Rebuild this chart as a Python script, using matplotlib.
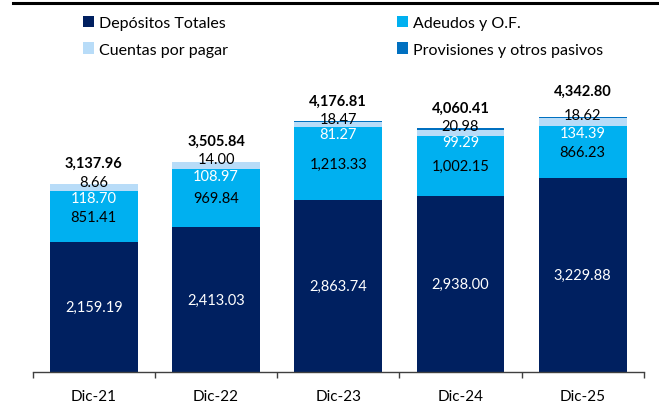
import numpy as np
import matplotlib.pyplot as plt
from matplotlib.lines import Line2D

# data (millones)
periodos = ["Dic-21", "Dic-22", "Dic-23", "Dic-24", "Dic-25"]
depositos = [2159.19, 2413.03, 2863.74, 2938.00, 3229.88]
adeudos = [851.41, 969.84, 1213.33, 1002.15, 866.23]
cuentas = [118.70, 108.97, 81.27, 99.29, 134.39]
provisiones = [8.66, 14.00, 18.47, 20.98, 18.62]
totales = [3137.96, 3505.84, 4176.81, 4060.41, 4342.80]

c_dep = "#002060"
c_ade = "#00B0F0"
c_cue = "#B8DCF8"
c_pro = "#0070C0"

plt.rcParams["font.family"] = ["Lato", "DejaVu Sans"]

fig = plt.figure(figsize=(6.59, 4.06), dpi=100)
ax = fig.add_axes([0.0496, 0.0813, 0.9274, 0.7687])

x = np.arange(len(periodos))
w = 0.717
dep = np.array(depositos)
ade = np.array(adeudos)
cue = np.array(cuentas)
pro = np.array(provisiones)

b1 = ax.bar(x, dep, w, color=c_dep)
b2 = ax.bar(x, ade, w, bottom=dep, color=c_ade)
b3 = ax.bar(x, cue, w, bottom=dep + ade, color=c_cue)
b4 = ax.bar(x, pro, w, bottom=dep + ade + cue, color=c_pro)

fs = 10.5
for i in range(len(x)):
    ax.text(x[i], dep[i] / 2, f"{dep[i]:,.2f}", ha="center", va="center",
            color="white", fontsize=fs)
    ax.text(x[i], dep[i] + ade[i] / 2, f"{ade[i]:,.2f}", ha="center", va="center",
            color="black", fontsize=fs)
    ax.annotate(f"{cue[i]:,.2f}", (x[i], dep[i] + ade[i]), xytext=(0, -5),
                textcoords="offset points", ha="center", va="center",
                color="white", fontsize=fs)
    top = dep[i] + ade[i] + cue[i] + pro[i]
    ax.annotate(f"{pro[i]:,.2f}", (x[i], top), xytext=(0, 1.5),
                textcoords="offset points", ha="center", va="center",
                color="black", fontsize=fs)
    ax.annotate(f"{totales[i]:,.2f}", (x[i], totales[i]), xytext=(0, 14.8),
                textcoords="offset points", ha="center", va="center",
                color="black", fontsize=fs, fontweight="bold")

ax.set_xlim(-0.5, len(x) - 0.5)
ax.set_ylim(0, 5200)
for s in ["top", "right", "left"]:
    ax.spines[s].set_visible(False)
ax.spines["bottom"].set_color("#404040")
ax.spines["bottom"].set_linewidth(1)
ax.set_yticks([])
ax.set_xticks(x)
ax.set_xticklabels(periodos, fontsize=11)
ax.tick_params(axis="x", which="major", length=0, pad=12)
ax.set_xticks(np.arange(-0.5, len(x)), minor=True)
ax.tick_params(axis="x", which="minor", length=4, width=1, color="#404040")

# legend (row-wise order)
leg = fig.legend([b1, b3, b2, b4],
                 ["Depósitos Totales", "Cuentas por pagar", "Adeudos y O.F.",
                  "Provisiones y otros pasivos"],
                 ncol=2, loc="upper left", bbox_to_anchor=(0.114, 0.979),
                 frameon=False, fontsize=11.5, handlelength=0.7, handleheight=0.7,
                 handletextpad=0.3, columnspacing=10.55, labelspacing=0.8,
                 borderpad=0)

# top rule
fig.add_artist(Line2D([0.019, 1.0], [0.989, 0.989], color="black", linewidth=2.2,
                      transform=fig.transFigure))

fig.savefig("out.png", dpi=100)
